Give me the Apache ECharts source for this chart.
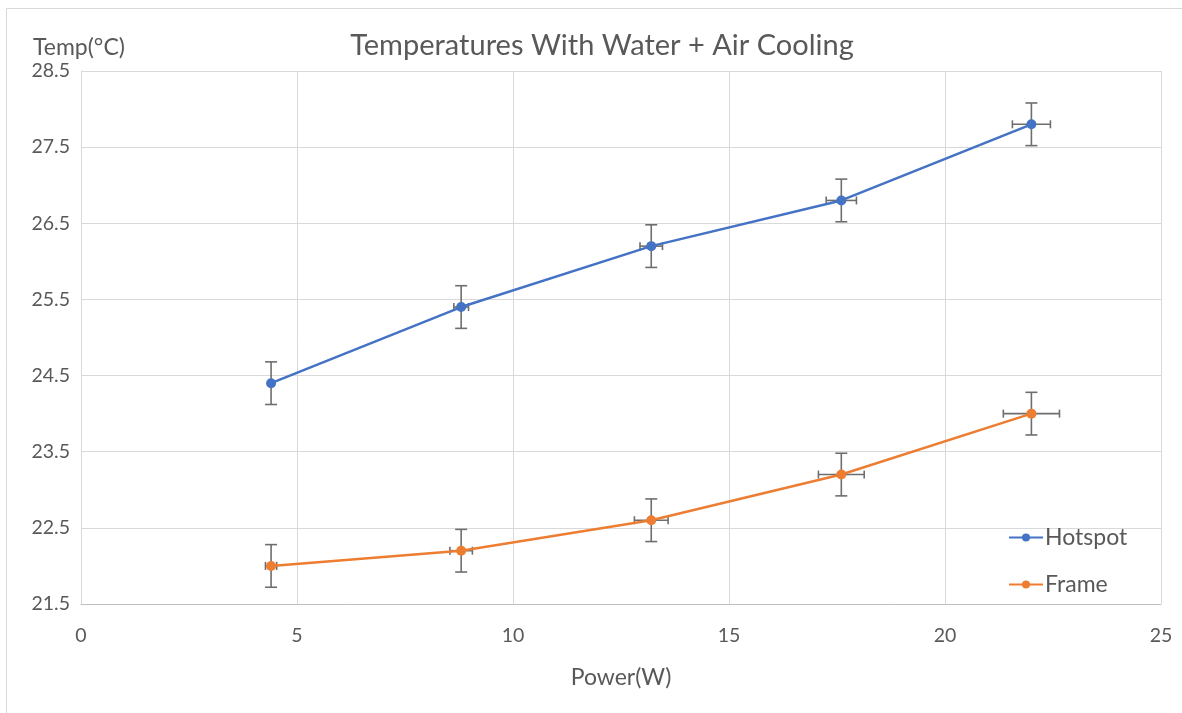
<!DOCTYPE html>
<html>
<head>
<meta charset="utf-8">
<script src="https://cdn.jsdelivr.net/npm/echarts@6/dist/echarts.min.js"></script>
<style>
html,body{margin:0;padding:0;background:#fff;}
#chart{width:1182px;height:713px;}
</style>
</head>
<body>
<div id="chart"></div>
<script>
var powerX = [4.4, 8.8, 13.2, 17.6, 22];
var hotspotTemp = [24.4, 25.4, 26.2, 26.8, 27.8];
var frameTemp = [22.0, 22.2, 22.6, 23.2, 24.0];
var hotspotXErr = [0.04, 0.17, 0.26, 0.35, 0.44];
var frameXErr = [0.13, 0.26, 0.39, 0.53, 0.65];
var hotspotYErr = [0.28, 0.28, 0.28, 0.28, 0.28];
var frameYErr = [0.28, 0.28, 0.28, 0.28, 0.28];
var yTickLabels = ['21.5', '22.5', '23.5', '24.5', '25.5', '26.5', '27.5', '28.5'];
var xTickLabels = ['0', '5', '10', '15', '20', '25'];

var FONT = 'Lato';
var TXT = '#595959';

function pts(ys) { return powerX.map(function (x, i) { return [x, ys[i]]; }); }
function errData(ys, xe, ye) { return powerX.map(function (x, i) { return [x, ys[i], xe[i], ye[i]]; }); }

function renderErr(params, api) {
  var x = api.value(0), y = api.value(1), xe = api.value(2), ye = api.value(3);
  var c = api.coord([x, y]);
  var top = api.coord([x, y + ye]), bot = api.coord([x, y - ye]);
  var lft = api.coord([x - xe, y]), rgt = api.coord([x + xe, y]);
  var st = { stroke: '#6e6e6e', lineWidth: 1.6 };
  var cw = 6, ch = 4;
  var children = [
    { type: 'line', shape: { x1: c[0], y1: top[1], x2: c[0], y2: bot[1] }, style: st },
    { type: 'line', shape: { x1: c[0] - cw, y1: top[1], x2: c[0] + cw, y2: top[1] }, style: st },
    { type: 'line', shape: { x1: c[0] - cw, y1: bot[1], x2: c[0] + cw, y2: bot[1] }, style: st },
    { type: 'line', shape: { x1: lft[0], y1: c[1], x2: rgt[0], y2: c[1] }, style: st },
    { type: 'line', shape: { x1: lft[0], y1: c[1] - ch, x2: lft[0], y2: c[1] + ch }, style: st },
    { type: 'line', shape: { x1: rgt[0], y1: c[1] - ch, x2: rgt[0], y2: c[1] + ch }, style: st }
  ];
  return { type: 'group', children: children };
}

var chart = echarts.init(document.getElementById('chart'), null, { renderer: 'canvas' });
chart.setOption({
  backgroundColor: '#fff',
  animation: false,
  title: {
    text: 'Temperatures With Water + Air Cooling',
    left: 597, top: 26, textAlign: 'center',
    textStyle: { fontFamily: FONT, fontSize: 29, fontWeight: 'normal', color: TXT }
  },
  graphic: [{
    type: 'rect', shape: { x: 6.5, y: 8.5, width: 1200, height: 720 },
    style: { fill: 'none', stroke: '#d9d9d9', lineWidth: 1 }, silent: true
  }],
  legend: {
    orient: 'vertical', left: 1003, top: 521, itemGap: 24, itemWidth: 34, itemHeight: 10,
    data: ['Hotspot', 'Frame'],
    textStyle: { fontFamily: FONT, fontSize: 23, color: TXT, padding: [0, 0, 0, -3] }
  },
  grid: { left: 81, right: 21, top: 71, bottom: 109 },
  xAxis: {
    type: 'value', min: 0, max: 25, interval: 5,
    name: 'Power(W)', nameLocation: 'middle', nameGap: 62,
    nameTextStyle: { fontFamily: FONT, fontSize: 23, color: TXT },
    axisLine: { show: true, lineStyle: { color: '#bfbfbf', width: 1 } },
    axisTick: { show: false },
    axisLabel: { fontFamily: FONT, fontSize: 19.5, color: TXT, margin: 22,
      formatter: function (v) { var i = Math.round(v / 5); return xTickLabels[i] != null ? xTickLabels[i] : ''; } },
    splitLine: { show: true, lineStyle: { color: '#d9d9d9', width: 1 } }
  },
  yAxis: {
    type: 'value', min: 21.5, max: 28.5, interval: 1,
    name: 'Temp(°C)', nameLocation: 'end', nameGap: 12,
    nameTextStyle: { fontFamily: FONT, fontSize: 23, color: TXT, align: 'left', padding: [0, 0, 0, -48] },
    axisLine: { show: true, lineStyle: { color: '#d9d9d9', width: 1 } },
    axisTick: { show: false },
    axisLabel: { fontFamily: FONT, fontSize: 19.5, color: TXT, margin: 11,
      formatter: function (v) { var i = Math.round(v - 21.5); return yTickLabels[i] != null ? yTickLabels[i] : ''; } },
    splitLine: { show: true, lineStyle: { color: '#d9d9d9', width: 1 } }
  },
  series: [
    {
      name: 'Hotspot', type: 'line', data: pts(hotspotTemp),
      symbol: 'circle', symbolSize: 10, showSymbol: true,
      itemStyle: { color: '#4472C4' }, lineStyle: { color: '#4472C4', width: 2.5 }, z: 3
    },
    {
      name: 'Frame', type: 'line', data: pts(frameTemp),
      symbol: 'circle', symbolSize: 10, showSymbol: true,
      itemStyle: { color: '#ED7D31' }, lineStyle: { color: '#ED7D31', width: 2.5 }, z: 3
    },
    { type: 'custom', name: 'hErr', renderItem: renderErr, data: errData(hotspotTemp, hotspotXErr, hotspotYErr),
      encode: { x: 0, y: 1 }, z: 2, silent: true },
    { type: 'custom', name: 'fErr', renderItem: renderErr, data: errData(frameTemp, frameXErr, frameYErr),
      encode: { x: 0, y: 1 }, z: 2, silent: true }
  ]
});
</script>
</body>
</html>
